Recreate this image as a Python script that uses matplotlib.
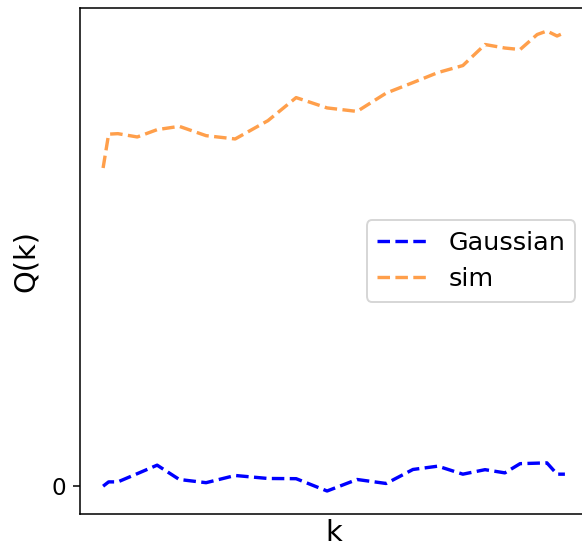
import matplotlib
matplotlib.use("Agg")
import matplotlib.pyplot as plt

k = [0, 1.2, 3.2, 7.4, 11.7, 16.5, 22.3, 28.6, 35.7, 41.8, 48.5, 55.0,
     61.3, 67.1, 72.5, 77.9, 82.7, 87.0, 90.3, 94.0, 96.1, 98.3, 100]
gaussian = [0.0, 0.043, 0.043, 0.125, 0.21, 0.067, 0.035, 0.107, 0.077, 0.075,
            -0.048, 0.067, 0.027, 0.167, 0.20, 0.12, 0.165, 0.133, 0.225, 0.23,
            0.233, 0.12, 0.12]
sim = [3.177, 3.515, 3.52, 3.487, 3.56, 3.593, 3.50, 3.467, 3.65, 3.88, 3.777,
       3.742, 3.925, 4.03, 4.13, 4.20, 4.41, 4.375, 4.36, 4.51, 4.545, 4.495, 4.53]
yticks = [0]
yticklabels = ["0"]

dpi = 139
fig = plt.figure(figsize=(582 / dpi, 547 / dpi), dpi=dpi)
ax = fig.add_axes([80 / 582, 33 / 547, 508 / 582, 506 / 547])
ax.plot(k, gaussian, "--", color="blue", lw=1.75, label="Gaussian")
ax.plot(k, sim, "--", color="tab:orange", lw=1.75, alpha=0.75, label="sim")
ax.set_xticks([])
ax.set_yticks(yticks)
ax.set_yticklabels(yticklabels, fontsize=12)
ax.set_xlabel("k", fontsize=15, labelpad=2.5)
ax.set_ylabel("Q(k)", fontsize=15, labelpad=6)
ax.legend(loc="center right", fontsize=13.2)
fig.savefig("out.png", dpi=dpi)
